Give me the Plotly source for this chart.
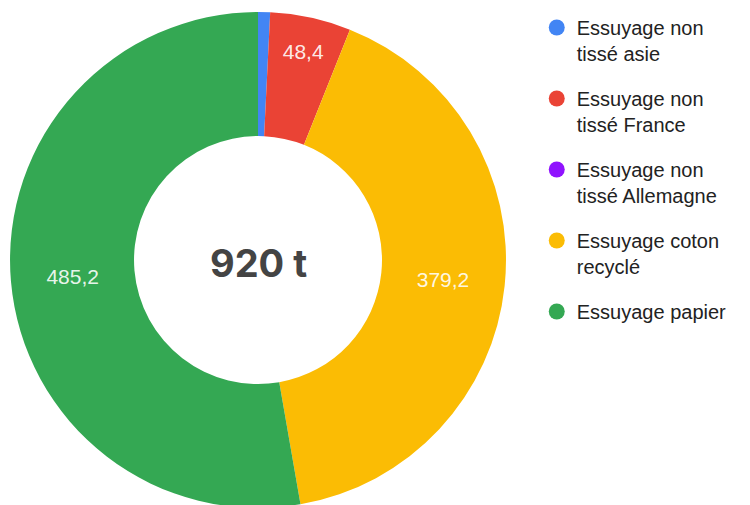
import plotly.graph_objects as go

categories = [
    "Essuyage non<br>tissé asie",
    "Essuyage non<br>tissé France",
    "Essuyage non<br>tissé Allemagne",
    "Essuyage coton<br>recyclé",
    "Essuyage papier",
]
values = [7.2, 48.4, 0.0, 379.2, 485.2]
colors = ["#4285F4", "#EA4335", "#9013FE", "#FBBC04", "#34A853"]
center_label = "920 t"

labels_text = [("" if v < 20 else f"{v:.1f}".replace(".", ",")) for v in values]

dom_x = [0.0027, 0.664]
dom_y = [0.0099, 0.992]

fig = go.Figure()
fig.add_trace(go.Pie(
    labels=categories,
    values=values,
    text=labels_text,
    textinfo="text",
    textposition="inside",
    insidetextorientation="horizontal",
    textfont=dict(family="Liberation Sans, Arial", size=21, color="rgba(255,255,255,0.9)"),
    marker=dict(colors=colors, line=dict(width=0)),
    hole=0.5,
    sort=False,
    direction="clockwise",
    rotation=0,
    showlegend=False,
    domain=dict(x=dom_x, y=dom_y),
    hoverinfo="label+value",
))

for i, (name, col) in enumerate(zip(categories, colors)):
    fig.add_trace(go.Scatter(
        x=[None], y=[None], mode="markers", name=name,
        marker=dict(color=col, size=16, symbol="circle"),
        legendgroup=f"g{i}", showlegend=True,
    ))

fig.add_annotation(
    text=f"<b>{center_label}</b>", x=(dom_x[0] + dom_x[1]) / 2, y=0.496,
    xref="paper", yref="paper", showarrow=False,
    font=dict(family="Inter, Liberation Sans", size=38, color="#444444"),
)

fig.update_layout(
    width=750, height=505,
    margin=dict(l=0, r=0, t=0, b=0),
    paper_bgcolor="white", plot_bgcolor="white",
    xaxis=dict(visible=False), yaxis=dict(visible=False),
    legend=dict(
        x=0.705, y=1.0, xanchor="left", yanchor="top",
        font=dict(family="Liberation Sans, Arial", size=20, color="#222222"),
        valign="top", tracegroupgap=16, itemsizing="trace",
        bgcolor="rgba(0,0,0,0)",
    ),
)

fig.write_html("out.html")
